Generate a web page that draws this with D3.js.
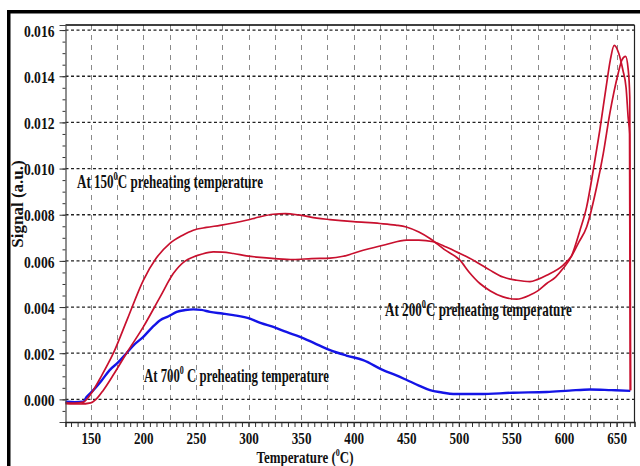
<!DOCTYPE html>
<html>
<head>
<meta charset="utf-8">
<script src="https://cdn.jsdelivr.net/npm/d3@7"></script>
<style>
  html, body { margin: 0; padding: 0; background: #fff; }
  svg { display: block; }
  text { font-family: "Liberation Serif", "Times New Roman", serif; font-weight: bold; fill: #111; }
</style>
</head>
<body>
<svg id="chart" width="640" height="466"></svg>
<script>
// ---- data (temperature in °C, signal in a.u.) ----
const seriesNames = ["At 150", "At 200", "At 700"];

const temp150 = [126,135,143,148,152.5,160,171.5,185,200,212,225,237,247.5,260,273,298,310,323.6,335,349,365,377.5,400,425,440,450,462,472.5,486,501,510,520,530,542,555,567.6,575,583.5,592,599,607,615,621.5,627.8,634,640.5,644,647.7,652,656,659,661,662.3,663];
const sig150  = [-0.00015,-0.00016,-0.00012,0.0001,0.0004,0.001,0.002,0.0035,0.00516,0.0061,0.00675,0.0071,0.00733,0.00745,0.00754,0.00776,0.0079,0.00802,0.00805,0.00798,0.00785,0.00779,0.0077,0.00762,0.00755,0.00747,0.00725,0.00697,0.0065,0.00603,0.0055,0.00502,0.0047,0.00444,0.00434,0.00452,0.0047,0.00502,0.0053,0.00567,0.0062,0.0073,0.00834,0.00993,0.01166,0.01368,0.0147,0.01534,0.0150,0.01426,0.0135,0.0122,0.0115,0.0004];

const temp200 = [126,140,150,155,162,172,184,200,216,228.5,240,247.5,256,266.5,275,285.6,298,311,325,342.6,360,377.5,390,409,430,450.4,462,475.6,488,501,515,529.6,542,555,567.6,575,583.5,599,607,614,621.5,631,637.3,643.5,651.4,655,658.5,661,662.5,663.3];
const sig200  = [-0.00018,-0.0002,-0.00015,0.0,0.0004,0.0011,0.002,0.00314,0.00444,0.00545,0.006,0.00617,0.0063,0.00639,0.00638,0.00632,0.00622,0.00615,0.0061,0.00606,0.0061,0.00612,0.0062,0.00646,0.0067,0.0069,0.0069,0.00683,0.0066,0.00632,0.006,0.0056,0.0053,0.00516,0.0051,0.0052,0.00538,0.00581,0.0062,0.0068,0.00747,0.0092,0.01065,0.01238,0.01411,0.0147,0.01486,0.0143,0.0131,0.0004];

const temp700 = [126,135,143,146,152.5,160,168,176,184,192,200,208,216,224,231.7,240,247.5,255,263.4,275,285.6,301.4,312,323.6,336,349,362,377.5,393,409,428,440,450.4,462,472.5,484,494.7,520,551.7,583.5,605,624.6,645,663];
const sig700  = [-0.0001,-0.00012,-0.0001,0.0001,0.0004,0.0008,0.00127,0.0016,0.002,0.0024,0.00271,0.0031,0.00343,0.0036,0.00379,0.00387,0.0039,0.00388,0.00379,0.00372,0.00365,0.0035,0.0033,0.00314,0.00292,0.00271,0.00245,0.00213,0.0019,0.0017,0.00127,0.00105,0.00084,0.0006,0.0004,0.0003,0.00023,0.00023,0.00029,0.00032,0.00038,0.00043,0.0004,0.00037];

const xTickLabels = [150,200,250,300,350,400,450,500,550,600,650];
const yTickLabels = [0.000,0.002,0.004,0.006,0.008,0.010,0.012,0.014,0.016];

// ---- layout ----
const svg = d3.select("#chart");
const plot = { left: 65.5, right: 634.5, top: 25, bottom: 422 };
const x = d3.scaleLinear().domain([126, 667]).range([plot.left, plot.right]);
const y = d3.scaleLinear().domain([-0.00098, 0.01622]).range([plot.bottom, plot.top]);
const RED = "#c8102e", BLUE = "#1414e6";

function squeeze(sel, f) {
  sel.each(function () {
    const w = this.getComputedTextLength();
    d3.select(this).attr("textLength", w * f).attr("lengthAdjust", "spacingAndGlyphs");
  });
}

// one text element with a superscript "0" tspan; the group is scaled horizontally to a target width
function supText(x0, y0, pre, post, width, size, anchor) {
  const g = svg.append("g");
  const t = g.append("text").attr("x", 0).attr("y", 0).attr("font-size", size)
    .attr("text-anchor", anchor === "middle" ? "middle" : "start");
  const sup = Math.round(size * 0.42);
  t.append("tspan").text(pre);
  t.append("tspan").text("0").attr("font-size", Math.round(size * 0.63)).attr("dy", -sup);
  t.append("tspan").text(post).attr("dy", sup);
  const natural = t.node().getComputedTextLength();
  const f = width / natural;
  g.attr("transform", `translate(${x0},${y0}) scale(${f},1)`);
}

// outer frame
svg.append("rect").attr("x", 7).attr("y", 10).attr("width", 3.5).attr("height", 456).attr("fill", "#000");
svg.append("rect").attr("x", 7).attr("y", 10).attr("width", 633).attr("height", 3.5).attr("fill", "#000");

// vertical grid
const vGrid = d3.range(150, 651, 25);
svg.append("g").selectAll("line").data(vGrid).join("line")
  .attr("x1", d => Math.round(x(d)) + 0.5).attr("x2", d => Math.round(x(d)) + 0.5)
  .attr("y1", plot.top).attr("y2", plot.bottom)
  .attr("stroke", "#8a8a8a").attr("stroke-width", 1).attr("stroke-dasharray", "5,5");

// horizontal grid
svg.append("g").selectAll("line").data(yTickLabels).join("line")
  .attr("x1", plot.left).attr("x2", plot.right)
  .attr("y1", d => y(d)).attr("y2", d => y(d))
  .attr("stroke", "#222").attr("stroke-width", 1.3).attr("stroke-dasharray", "3,2.5");

// curves
const line = d3.line().x(d => x(d[0])).y(d => y(d[1])).curve(d3.curveMonotoneX);
const zip = (a, b) => a.map((t, i) => [t, b[i]]);
svg.append("path").datum(zip(temp700, sig700)).attr("d", line)
  .attr("fill", "none").attr("stroke", BLUE).attr("stroke-width", 2.4);
svg.append("path").datum(zip(temp200, sig200)).attr("d", line)
  .attr("fill", "none").attr("stroke", RED).attr("stroke-width", 1.7);
svg.append("path").datum(zip(temp150, sig150)).attr("d", line)
  .attr("fill", "none").attr("stroke", RED).attr("stroke-width", 1.7);

// borders
svg.append("line").attr("x1", plot.left).attr("x2", plot.right).attr("y1", plot.top).attr("y2", plot.top)
  .attr("stroke", "#000").attr("stroke-width", 1.5);
svg.append("line").attr("x1", plot.right).attr("x2", plot.right).attr("y1", plot.top).attr("y2", plot.bottom)
  .attr("stroke", "#222").attr("stroke-width", 1.2);

// y axis
const yMinor = d3.range(-0.0005, 0.01601, 0.0005);
const gyMinor = svg.append("g").attr("transform", `translate(${plot.left},0)`)
  .call(d3.axisLeft(y).tickValues(yMinor).tickSize(3).tickFormat(""));
gyMinor.select(".domain").remove();
gyMinor.selectAll("line").attr("stroke", "#333");
gyMinor.selectAll("text").remove();
const gy = svg.append("g").attr("transform", `translate(${plot.left},0)`)
  .call(d3.axisLeft(y).tickValues(yTickLabels).tickSize(6).tickPadding(5).tickFormat(d3.format(".3f")));
gy.select(".domain").attr("stroke", "#444").attr("stroke-width", 1.2);
gy.selectAll("line").attr("stroke", "#333");
gy.selectAll("text").attr("font-size", 17).attr("fill", "#111").attr("dy", "0.36em")
  .style("font-family", "Liberation Serif").style("font-weight", "bold");
squeeze(gy.selectAll("text"), 0.8);

// x axis
const xMinor = d3.range(131.25, 667, 6.25);
const gxMinor = svg.append("g").attr("transform", `translate(0,${plot.bottom})`)
  .call(d3.axisBottom(x).tickValues(xMinor).tickSize(5).tickFormat(""));
gxMinor.select(".domain").remove();
gxMinor.selectAll("line").attr("stroke", "#333");
gxMinor.selectAll("text").remove();
const gx = svg.append("g").attr("transform", `translate(0,${plot.bottom})`)
  .call(d3.axisBottom(x).tickValues(xTickLabels).tickSize(5).tickPadding(6).tickFormat(d3.format("d")));
gx.select(".domain").attr("stroke", "#222").attr("stroke-width", 1.5);
gx.selectAll("line").attr("stroke", "#333");
gx.selectAll("text").attr("font-size", 16).attr("fill", "#111")
  .style("font-family", "Liberation Serif").style("font-weight", "bold");
squeeze(gx.selectAll("text"), 0.82);

// axis titles
supText(305, 463, "Temperature (", "C)", 97, 16, "middle");

svg.append("text").attr("transform", "translate(23,204) rotate(-90)")
  .attr("text-anchor", "middle").attr("font-size", 17).text("Signal (a.u.)");

// annotations
supText(77, 188, "At 150", "C preheating temperature", 186, 19, "start");
supText(385, 316, "At 200", "C preheating temperature", 187, 19, "start");
supText(144, 382, "At 700", " C preheating temperature", 185, 19, "start");
</script>
</body>
</html>
